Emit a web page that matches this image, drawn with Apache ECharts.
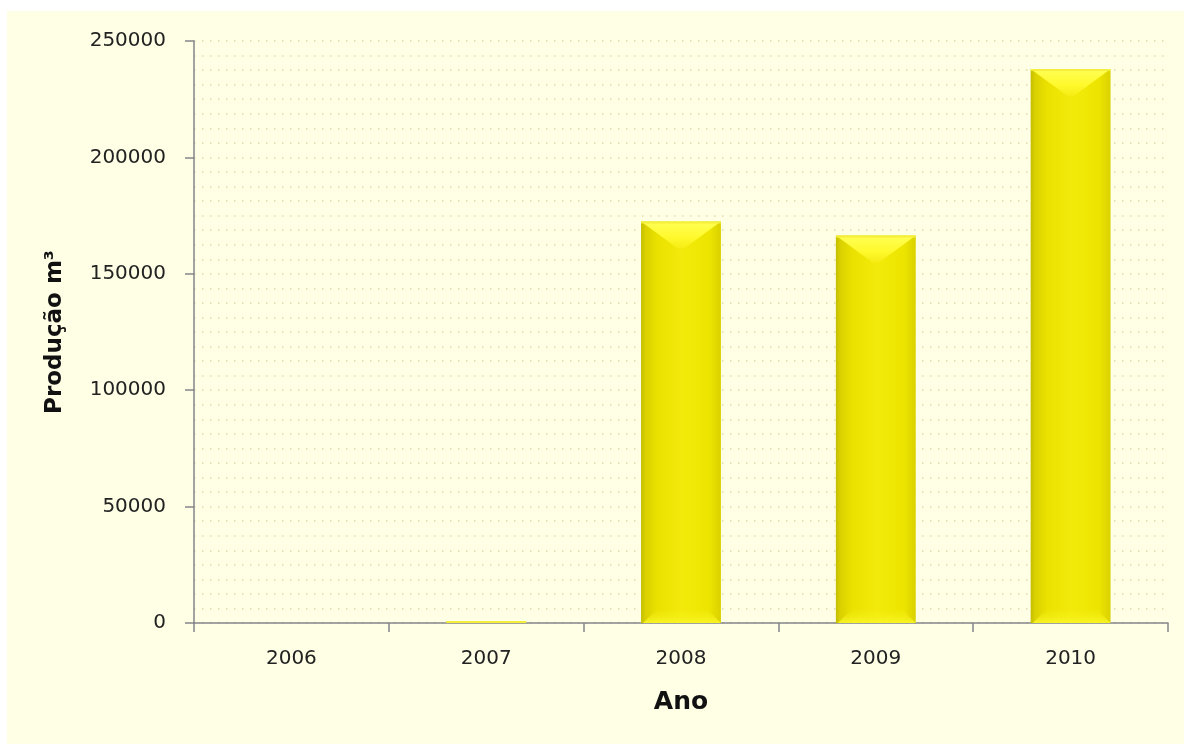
<!DOCTYPE html>
<html>
<head>
<meta charset="utf-8">
<title>Produção por ano</title>
<script src="https://cdn.jsdelivr.net/npm/echarts@6/dist/echarts.min.js"></script>
<style>
  html, body { margin: 0; padding: 0; background: #ffffff; }
  #frame { position: absolute; left: 7px; top: 11px; width: 1177px; height: 733px; background: #FFFFE6; }
  #chart { position: absolute; left: 0; top: 0; width: 1184px; height: 744px; }
</style>
</head>
<body>
<div id="frame"></div>
<div id="chart"></div>
<script>
// Annual production in cubic metres
const years = ['2006', '2007', '2008', '2009', '2010'];
const production = [0, 900, 172500, 166500, 238000];
const yTicks = [0, 50000, 100000, 150000, 200000, 250000];

const chart = echarts.init(document.getElementById('chart'), null, { renderer: 'canvas' });

// Bevelled yellow column drawn from the axis scales
function renderBevelBar(params, api) {
  const idx = api.value(0);
  const val = api.value(1);
  const top = api.coord([idx, val]);
  const base = api.coord([idx, 0]);
  const w = api.size([1, 0])[0] * 0.41;
  const x0 = top[0] - w / 2;
  const x1 = top[0] + w / 2;
  const xc = top[0];
  const yt = top[1];
  const yb = base[1];
  const h = yb - yt;
  if (h <= 0) return null;
  const d = Math.min(w * 0.34, h / 2);
  const sd = Math.min(w * 0.18, h / 2);

  return {
    type: 'group',
    children: [
      { // body
        type: 'rect',
        shape: { x: x0, y: yt, width: w, height: h },
        style: {
          fill: new echarts.graphic.LinearGradient(0, 0, 1, 0, [
            { offset: 0, color: '#C4BC00' },
            { offset: 0.05, color: '#D9D000' },
            { offset: 0.2, color: '#EAE100' },
            { offset: 0.5, color: '#F2EA0A' },
            { offset: 0.85, color: '#EDE500' },
            { offset: 1, color: '#DAD100' }
          ])
        }
      },
      { // lower bevel face
        type: 'polygon',
        shape: { points: [[x0 + 2, yb], [x0 + 2 + sd, yb - sd], [x1 - sd, yb - sd], [x1, yb]] },
        style: {
          fill: new echarts.graphic.LinearGradient(0, 0, 0, 1, [
            { offset: 0, color: 'rgba(246,240,20,0.0)' },
            { offset: 1, color: 'rgba(250,246,40,0.9)' }
          ])
        }
      },
      { // upper bevel face
        type: 'polygon',
        shape: { points: [[x0, yt], [x1, yt], [xc + w * 0.04, yt + d], [xc - w * 0.04, yt + d]] },
        style: {
          fill: new echarts.graphic.LinearGradient(0, 0, 0, 1, [
            { offset: 0, color: '#FFFF55' },
            { offset: 0.6, color: '#FFF92C' },
            { offset: 1, color: '#F6EC14' }
          ])
        }
      },
      { // thin top highlight
        type: 'rect',
        shape: { x: x0, y: yt, width: w, height: Math.min(2, h) },
        style: { fill: '#F4EE3C' }
      }
    ]
  };
}

const option = {
  animation: false,
  backgroundColor: 'transparent',
  grid: { left: 194, right: 16, top: 41, bottom: 121, containLabel: false },
  xAxis: {
    type: 'category',
    data: years,
    boundaryGap: true,
    name: 'Ano',
    nameLocation: 'middle',
    nameGap: 67,
    nameTextStyle: { fontFamily: 'DejaVu Sans', fontSize: 25, fontWeight: 'bold', color: '#111' },
    axisLine: { show: true, lineStyle: { color: '#85858A', width: 1.5 } },
    axisTick: { show: true, alignWithLabel: false, length: 9, inside: false, lineStyle: { color: '#85858A', width: 1.5 } },
    axisLabel: { fontFamily: 'DejaVu Sans', fontSize: 20, color: '#222', margin: 26 },
    splitLine: { show: false }
  },
  yAxis: {
    type: 'value',
    min: 0,
    max: 250000,
    interval: 50000,
    name: 'Produção m³',
    nameLocation: 'middle',
    nameGap: 127,
    nameTextStyle: { fontFamily: 'DejaVu Sans', fontSize: 23, fontWeight: 'bold', color: '#111' },
    axisLine: { show: true, lineStyle: { color: '#85858A', width: 1.5 } },
    axisTick: { show: true, length: 9, lineStyle: { color: '#85858A', width: 1.5 } },
    axisLabel: {
      fontFamily: 'DejaVu Sans', fontSize: 20, color: '#222', margin: 28,
      formatter: function (v) { return yTicks.indexOf(v) >= 0 ? String(v) : ''; }
    },
    splitLine: { show: true, lineStyle: { color: '#E2D9A8', width: 1.5, type: [1.5, 6.5] } },
    minorTick: { show: false, splitNumber: 8 },
    minorSplitLine: { show: true, lineStyle: { color: '#E2D9A8', width: 1.5, type: [1.5, 6.5] } }
  },
  series: [{
    type: 'custom',
    renderItem: renderBevelBar,
    encode: { x: 0, y: 1 },
    data: production.map(function (v, i) { return [i, v]; }),
    z: 3
  }]
};

chart.setOption(option);
</script>
</body>
</html>
